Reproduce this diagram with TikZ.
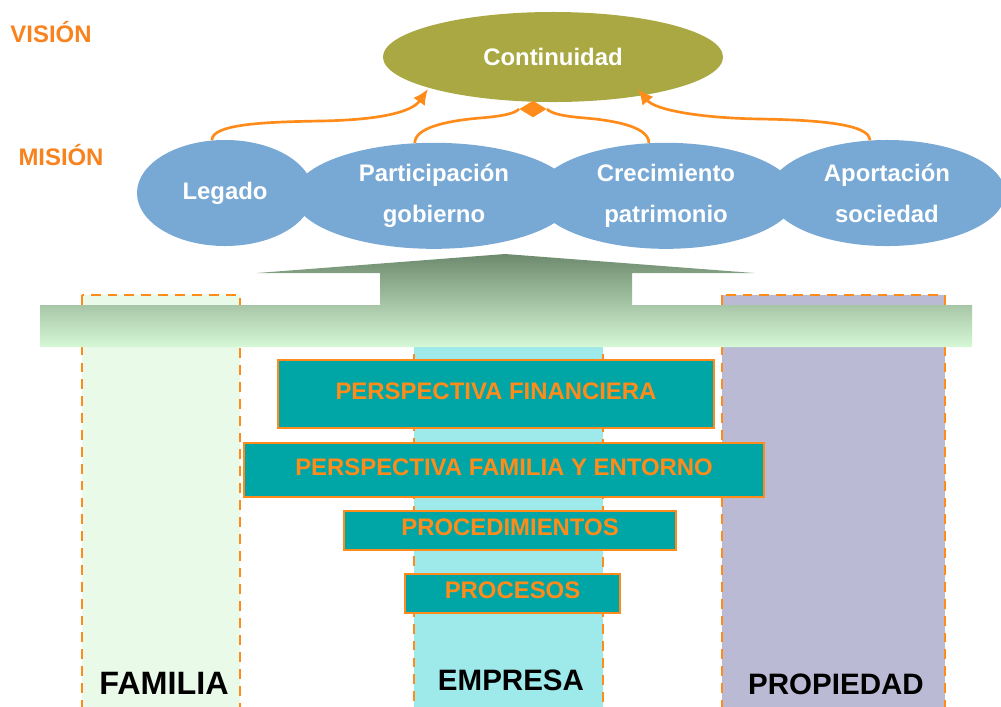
\documentclass[tikz,border=0pt]{standalone}
\usepackage{fontspec}
\setmainfont{Liberation Sans}
\usetikzlibrary{shapes.geometric,arrows.meta}
\definecolor{vision}{HTML}{F7821E}
\definecolor{linkorange}{HTML}{FF8C1A}
\definecolor{olive}{HTML}{A9A843}
\definecolor{misblue}{HTML}{78A9D5}
\definecolor{teal}{HTML}{00A6A6}
\definecolor{famfill}{HTML}{E9FAE9}
\definecolor{empfill}{HTML}{9EE9EA}
\definecolor{propfill}{HTML}{BBBAD4}
\definecolor{arrowtop}{HTML}{6E8A6E}
\definecolor{arrowbot}{HTML}{D6F8D6}
\begin{document}
\begin{tikzpicture}[x=0.025cm, y=-0.025cm,
    mision/.style={ellipse, fill=misblue, text=white, inner sep=0pt, minimum height=2.65cm,
                   align=center, font=\bfseries\fontsize{17}{29}\selectfont},
    link/.style={draw=linkorange, line width=1.9pt},
    tip/.style={-{Latex[length=11pt,width=10pt]}},
    column/.style={draw=linkorange, line width=1.4pt, dash pattern=on 7pt off 5pt},
    persp/.style={draw=linkorange, fill=teal, line width=2pt},
    persptext/.style={text=linkorange, font=\bfseries\fontsize{17}{20}\selectfont, yshift=2pt},
    colname/.style={font=\bfseries\fontsize{21}{24}\selectfont}]
  \useasboundingbox (0,0) rectangle (1001,706);
  % columns
  \draw[column, fill=famfill] (82,295) rectangle (240,720);
  \draw[column, fill=empfill] (414,320) rectangle (603,720);
  \draw[column, fill=propfill] (722,295) rectangle (945,720);
  % big arrow
  \shade[top color=arrowtop, bottom color=arrowbot]
        (257,273) -- (505,254) -- (754,273) -- (632,273) -- (632,305) -- (972,305)
        -- (972,347) -- (40,347) -- (40,305) -- (380,305) -- (380,273) -- cycle;
  % perspectives
  \draw[persp] (278,360) rectangle (714,428) node (fin) [pos=.5, persptext] {PERSPECTIVA FINANCIERA}
               (244,443) rectangle (764,497) node (fam) [pos=.5, persptext] {PERSPECTIVA FAMILIA Y ENTORNO}
               (344,511) rectangle (676,550) node (proc) [pos=.5, persptext] {PROCEDIMIENTOS}
               (405,574) rectangle (620,613) node (pros) [pos=.5, persptext] {PROCESOS};
  % column names
  \node (familia) [colname, font=\bfseries\fontsize{23}{26}\selectfont] at (164,683) {FAMILIA};
  \node (empresa) [colname] at (511,680) {EMPRESA};
  \node (propiedad) [colname] at (836,684) {PROPIEDAD};
  % vision and mision
  \node (vision) [text=vision, font=\bfseries\fontsize{17}{20}\selectfont] at (51,32) {VISIÓN};
  \node (mision) [text=vision, font=\bfseries\fontsize{17}{20}\selectfont] at (61,155) {MISIÓN};
  \node (cont) [ellipse, fill=olive, text=white, inner sep=0pt, minimum width=8.5cm, minimum height=2.25cm,
                font=\bfseries\fontsize{17}{20}\selectfont] at (553,57) {Continuidad};
  \node (legado) [mision, minimum width=4.4cm] at (225,193) {Legado};
  \node (part) [mision, minimum width=7cm, yshift=-2pt] at (434,193) {Participación\\gobierno};
  \node (crec) [mision, minimum width=6.5cm, yshift=-2pt] at (666,193) {Crecimiento\\patrimonio};
  \node (aport) [mision, minimum width=5.9cm] at (887,193) {Aportación\\sociedad};
  \node (join) [diamond, fill=linkorange, inner sep=0pt, minimum width=0.68cm, minimum height=0.42cm] at (533,109) {};
  \coordinate (tipL) at (428,89);
  \coordinate (tipR) at (638,89);
  % links
  \draw[link, tip] (legado.104) .. controls +(0,-16) and (262,122) .. (320,121)
                   .. controls (380,120) and (412,112) .. (tipL);
  \draw[link] (part.110) .. controls +(0,-15) and (445,121) .. (480,118)
              .. controls (505,116) and (515,113) .. (join.west);
  \draw[link] (crec.108) .. controls +(0,-15) and (620,121) .. (585,118)
              .. controls (560,116) and (551,113) .. (join.east);
  \draw[link, tip] (aport.108) .. controls +(0,-16) and (820,120) .. (760,119)
                   .. controls (700,118) and (655,110) .. (tipR);
\end{tikzpicture}
\end{document}
